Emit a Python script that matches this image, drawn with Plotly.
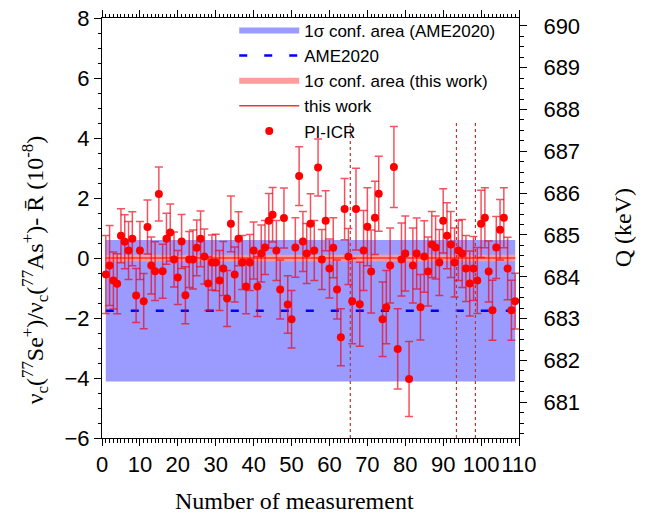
import plotly.graph_objects as go

# ---------------- data ----------------
measurement = list(range(1, 110))
ratio_dev = [
    -0.55, -0.25, -0.75, -0.86, 0.74, 0.54, 0.25, 0.64, -1.25, 0.25,
    -1.44, 1.03, -0.25, -0.44, 2.13, -0.44, 0.64, 0.85, -0.05, -0.65,
    0.55, -1.24, -0.05, -0.05, 0.34, 0.64, 0.05, -0.85, -0.15, -0.15,
    -0.75, -0.35, -1.35, 1.14, -0.55, 0.64, -0.15, -0.95, -0.15, 0.25,
    -0.95, 0.15, 0.35, 1.24, 1.44, 0.25, -1.05, 1.33, -1.55, -2.04,
    0.35, 2.73, 0.55, 0.15, 1.14, 0.25, 3.02, -0.05, 1.24, -0.35,
    0.34, -1.05, -2.64, 1.63, 0.05, -1.44, 1.63, -1.54, 0.25, 1.04,
    -0.45, 1.34, 2.14, -2.04, -1.64, -0.25, 3.03, -3.03, -0.05, 0.15,
    -4.03, -0.25, 0.15, -1.64, 0.05, -0.45, 0.45, 0.35, -0.15, 1.24,
    0.74, 0.45, -0.15, 0.25, 0.15, -0.35, -0.85, -0.35, -0.75, 1.14,
    1.34, -0.45, -1.74, 0.35, 0.94, 1.34, -0.35, -1.74, -1.44,
]
ratio_err = [
    1.30, 1.33, 0.95, 1.00, 0.90, 0.90, 0.97, 0.90, 0.90, 0.97,
    0.92, 0.90, 0.95, 0.98, 0.90, 0.90, 0.85, 0.95, 0.92, 0.90,
    0.90, 0.95, 0.93, 0.98, 0.93, 0.93, 0.92, 0.90, 0.92, 0.94,
    1.00, 0.90, 0.93, 0.93, 0.92, 0.90, 0.90, 0.91, 0.93, 0.95,
    1.00, 0.95, 0.90, 0.91, 0.91, 1.00, 0.98, 1.00, 0.96, 0.96,
    0.99, 0.98, 1.00, 1.00, 1.00, 1.00, 0.95, 1.00, 1.00, 0.98,
    1.00, 0.98, 0.95, 1.02, 0.93, 1.42, 1.36, 1.40, 1.33, 1.30,
    1.38, 1.22, 1.25, 1.24, 1.22, 1.25, 1.35, 1.34, 1.22, 1.25,
    1.25, 1.25, 1.18, 1.09, 1.19, 1.15, 1.10, 1.05, 1.10, 1.07,
    1.10, 1.10, 1.15, 1.00, 1.13, 1.10, 1.08, 1.07, 1.10, 1.12,
    1.00, 1.02, 1.00, 1.03, 1.01, 1.00, 1.04, 1.00, 0.93,
]
ame_offset = -1.76      # AME2020 value relative to R-bar (1e-8)
ame_sigma = 2.36
this_work_offset = 0.0
this_work_sigma = 0.11
group_boundaries = [65.5, 93.5, 98.5]
boundary_span = [-6.0, 4.55]   # vertical extent of the boundary markers
q_at_zero = 684.45      # keV, Q-value corresponding to 0 on left axis
q_per_unit = 0.7172     # keV per 1e-8
x_ticks = list(range(0, 111, 10))

# ---------------- figure ----------------
x0, x1 = measurement[0], measurement[-1]
fig = go.Figure()

fig.add_trace(go.Scatter(
    x=[x0, x1, x1, x0, x0],
    y=[ame_offset + ame_sigma, ame_offset + ame_sigma,
       ame_offset - ame_sigma, ame_offset - ame_sigma, ame_offset + ame_sigma],
    fill="toself", fillcolor="#9b9bff", mode="none",
    name="1σ conf. area (AME2020)", legendrank=1, hoverinfo="skip"))

fig.add_trace(go.Scatter(
    x=[x0, x1, x1, x0, x0],
    y=[this_work_offset + this_work_sigma, this_work_offset + this_work_sigma,
       this_work_offset - this_work_sigma, this_work_offset - this_work_sigma,
       this_work_offset + this_work_sigma],
    fill="toself", fillcolor="#ff9c9c", mode="none",
    name="1σ conf. area (this work)", legendrank=3, hoverinfo="skip"))

fig.add_trace(go.Scatter(
    x=[x0, x1], y=[ame_offset, ame_offset], mode="lines",
    line=dict(color="#0000ff", width=2.5, dash="8px,17px"),
    name="AME2020", legendrank=2))

fig.add_trace(go.Scatter(
    x=[x0, x1], y=[this_work_offset, this_work_offset], mode="lines",
    line=dict(color="#ff3030", width=1.5),
    name="this work", legendrank=4))

for b in group_boundaries:
    fig.add_trace(go.Scatter(
        x=[b, b], y=boundary_span, mode="lines",
        line=dict(color="#b03838", width=1.2, dash="dot"),
        showlegend=False, hoverinfo="skip"))

fig.add_trace(go.Scatter(
    x=measurement, y=ratio_dev, mode="markers",
    marker=dict(color="#ff0000", size=8),
    error_y=dict(type="data", array=ratio_err, color="rgba(240,0,20,0.68)",
                 thickness=1.5, width=4),
    name="PI-ICR", legendrank=5))

# invisible trace to activate right axis
fig.add_trace(go.Scatter(
    x=[x0], y=[q_at_zero], yaxis="y2", mode="markers",
    marker=dict(opacity=0), showlegend=False, hoverinfo="skip"))

tickfont = dict(family="Liberation Sans, Arial, sans-serif", size=22, color="black")
serif = dict(family="Liberation Serif, Times New Roman, serif", size=24, color="black")

fig.update_layout(
    width=646, height=516,
    margin=dict(l=102, r=127, t=18, b=78, autoexpand=False),
    plot_bgcolor="white", paper_bgcolor="white",
    showlegend=True,
    legend=dict(x=0.955, xanchor="right", y=1.012, yanchor="top",
                bgcolor="rgba(255,255,255,0)", borderwidth=0, itemwidth=60,
                font=dict(family="Liberation Sans, Arial, sans-serif", size=17,
                          color="black"),
                tracegroupgap=0),
    xaxis=dict(range=[0, 110], tickmode="array", tickvals=x_ticks,
               ticks="outside", ticklen=7, tickwidth=1, tickcolor="black",
               showline=True, linecolor="black", linewidth=1, mirror="ticks",
               minor=dict(dtick=1, tick0=0, ticks="outside", ticklen=3.5,
                          tickcolor="black"),
               showgrid=False, zeroline=False, tickfont=tickfont,
               automargin=False),
    yaxis=dict(range=[-6, 8], dtick=2, tick0=0,
               ticks="outside", ticklen=7, tickwidth=1, tickcolor="black",
               showline=True, linecolor="black", linewidth=1, mirror=True,
               minor=dict(dtick=0.5, ticks="outside", ticklen=3.5,
                          tickcolor="black"),
               showgrid=False, zeroline=False, tickfont=tickfont,
               automargin=False),
    yaxis2=dict(overlaying="y", side="right", anchor="x",
                range=[q_at_zero - 6 * q_per_unit, q_at_zero + 8 * q_per_unit],
                dtick=1, tick0=680,
                ticks="outside", ticklen=7, tickwidth=1, tickcolor="black",
                showline=True, linecolor="black", linewidth=1,
                minor=dict(dtick=0.25, ticks="outside", ticklen=3.5,
                           tickcolor="black"),
                showgrid=False, zeroline=False, tickfont=tickfont,
                ticklabelstandoff=12, automargin=False),
    annotations=[
        dict(text="Number of measurement", xref="paper", yref="paper",
             x=0.462, y=-0.149, showarrow=False, font=serif,
             xanchor="center", yanchor="middle"),
        dict(text="ν<sub>c</sub>(<sup>77</sup>Se<sup>+</sup>)/ν<sub>c</sub>(<sup>77</sup>As<sup>+</sup>)- R\u0304 (10<sup>-8</sup>)",
             xref="paper", yref="paper", x=-0.16, y=0.40, textangle=-90,
             showarrow=False, font=serif, xanchor="center", yanchor="middle"),
        dict(text="Q (keV)", xref="paper", yref="paper", x=1.25, y=0.5,
             textangle=-90, showarrow=False, font=serif,
             xanchor="center", yanchor="middle"),
    ],
)

fig.write_html("out.html",
               config={"displayModeBar": False},
               post_script="document.body.style.margin='0';"
                           "document.body.style.overflow='hidden';")
